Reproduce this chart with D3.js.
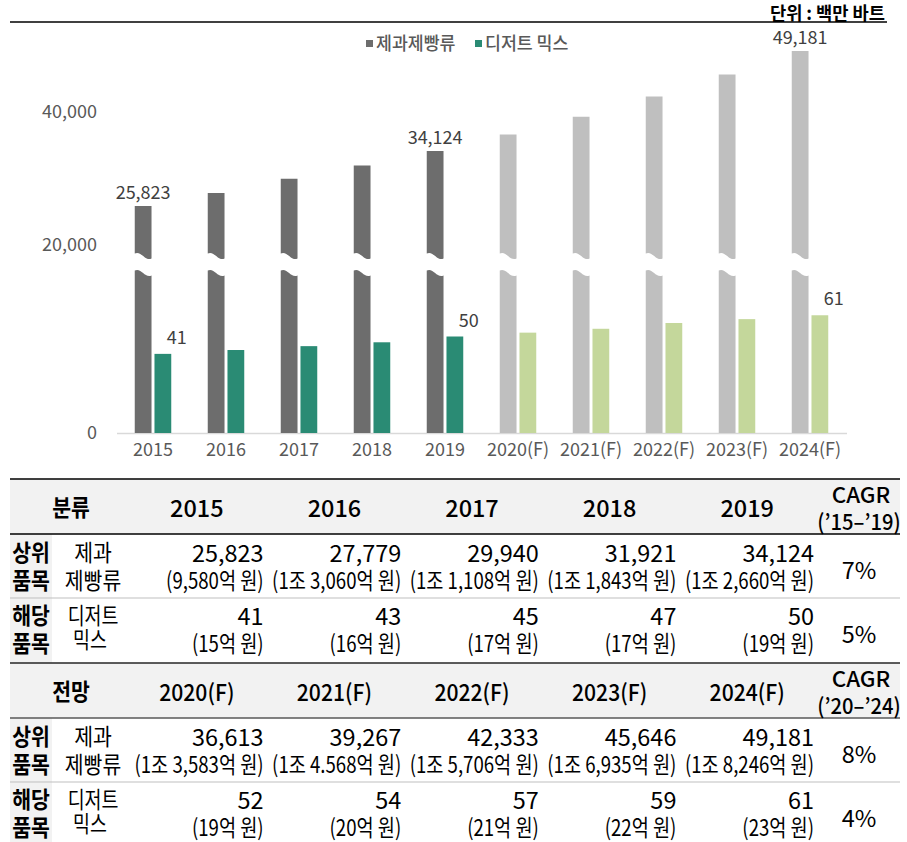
<!DOCTYPE html>
<html>
<head>
<meta charset="utf-8">
<script src="https://cdn.jsdelivr.net/npm/d3@7"></script>
<style>
    body { margin: 0; background: #fff; }
    svg { display: block; font-family: "Noto Sans CJK KR", "Noto Sans", sans-serif; }
</style>
</head>
<body>
<div id="chart"></div>
<script>
// values
const years = ["2015", "2016", "2017", "2018", "2019", "2020(F)", "2021(F)", "2022(F)", "2023(F)", "2024(F)"];
const bakery = [25823, 27779, 29940, 31921, 34124, 36613, 39267, 42333, 45646, 49181];
const dessert = [41, 43, 45, 47, 50, 52, 54, 57, 59, 61];
const bakeryWon = ["(9,580억 원)", "(1조 3,060억 원)", "(1조 1,108억 원)", "(1조 1,843억 원)", "(1조 2,660억 원)",
    "(1조 3,583억 원)", "(1조 4.568억 원)", "(1조 5,706억 원)", "(1조 6,935억 원)", "(1조 8,246억 원)"];
const dessertWon = ["(15억 원)", "(16억 원)", "(17억 원)", "(17억 원)", "(19억 원)",
    "(19억 원)", "(20억 원)", "(21억 원)", "(22억 원)", "(23억 원)"];
const sectionTitles = ["분류", "전망"];
const cagrPeriods = ["(’15–’19)", "(’20–’24)"];
const cagrBakery = ["7%", "8%"];
const cagrDessert = ["5%", "4%"];
const seriesNames = ["제과제빵류", "디저트 믹스"];
const labeledYears = ["2015", "2019", "2024(F)"];
const yTicks = [0, 20000, 40000];

const width = 907, height = 842;
const baseY = 433;
const breakLo = 16000, breakHi = 18300;   // where the bakery bars are cut
const wave = 2.5;

const colors = {
    bakery: "#6d6d6d", bakeryF: "#bfbfbf",
    dessert: "#2a8b74", dessertF: "#c4d79b"
};
const isForecast = y => y.includes("(F)");

const svg = d3.select("#chart").append("svg")
    .attr("width", width)
    .attr("height", height);

// header: unit + rule
svg.append("text")
    .attr("transform", "translate(885,20) scale(0.98,1)")
    .attr("text-anchor", "end")
    .attr("font-size", 18)
    .attr("font-weight", 700)
    .attr("fill", "#000")
    .text("단위 : 백만 바트");

svg.append("line")
    .attr("x1", 10).attr("x2", 887)
    .attr("y1", 22).attr("y2", 22)
    .attr("stroke", "#000").attr("stroke-width", 1.5);

// legend
const legend = svg.append("g").attr("font-size", 18).attr("fill", "#595959");
const legendX = [366, 475];
seriesNames.forEach((n, i) => {
    legend.append("rect")
        .attr("x", legendX[i]).attr("y", 40)
        .attr("width", 7).attr("height", 7)
        .attr("fill", i === 0 ? colors.bakery : colors.dessert);
    legend.append("text")
        .attr("transform", `translate(${legendX[i] + 10},50) scale(0.96,1)`)
        .attr("font-weight", 500)
        .text(n);
});

// scales
const x0 = d3.scaleBand()
    .domain(years)
    .range([116.5, 846.5])
    .paddingInner(0.5)
    .paddingOuter(0.25);

const x1 = d3.scaleBand()
    .domain(["bakery", "dessert"])
    .range([0, x0.bandwidth()])
    .paddingInner(0.15);

const yBak = d3.scaleLinear()
    .domain([0, breakLo, breakHi, 40000])
    .range([baseY, 273, 256, 112]);

const yDes = d3.scaleLinear()
    .domain([0, 100])
    .range([baseY, 240]);

const data = years.map((y, i) => ({ year: y, bakery: bakery[i], dessert: dessert[i] }));

// x axis
const gx = svg.append("g")
    .attr("transform", `translate(0,${baseY})`)
    .call(d3.axisBottom(x0).tickSize(0).tickPadding(10));
gx.select(".domain").attr("stroke", "#d9d9d9").attr("stroke-width", 1.5);
gx.selectAll("text")
    .attr("font-family", "'Noto Sans CJK KR', sans-serif")
    .attr("font-size", 18)
    .attr("fill", "#595959");

// y axis (labels only)
const gy = svg.append("g")
    .attr("transform", "translate(99,0)")
    .call(d3.axisLeft(yBak).tickValues(yTicks).tickSize(0).tickPadding(2).tickFormat(d3.format(",")));
gy.select(".domain").remove();
gy.selectAll("text")
    .attr("font-family", "'Noto Sans CJK KR', sans-serif")
    .attr("font-size", 18)
    .attr("fill", "#595959");

// bakery bars, drawn in two pieces with a wavy cut
function lowerPiece(d) {
    const x = x0(d.year) + x1("bakery"), w = x1.bandwidth(), yb = yBak(breakLo);
    return `M${x},${baseY}V${yb - wave}C${x + 0.4 * w},${yb - 2.2 * wave} ${x + 0.6 * w},${yb + 2.2 * wave} ${x + w},${yb + wave}V${baseY}Z`;
}
function upperPiece(d) {
    const x = x0(d.year) + x1("bakery"), w = x1.bandwidth(), yb = yBak(breakHi), yt = yBak(d.bakery);
    return `M${x},${yt}H${x + w}V${yb + wave}C${x + 0.6 * w},${yb + 2.2 * wave} ${x + 0.4 * w},${yb - 2.2 * wave} ${x},${yb - wave}Z`;
}

const gBars = svg.append("g");
gBars.selectAll(".bak-lo")
    .data(data)
    .enter()
    .append("path")
    .attr("class", "bak-lo")
    .attr("d", lowerPiece)
    .attr("fill", d => isForecast(d.year) ? colors.bakeryF : colors.bakery);

gBars.selectAll(".bak-hi")
    .data(data)
    .enter()
    .append("path")
    .attr("class", "bak-hi")
    .attr("d", upperPiece)
    .attr("fill", d => isForecast(d.year) ? colors.bakeryF : colors.bakery);

gBars.selectAll(".des")
    .data(data)
    .enter()
    .append("rect")
    .attr("class", "des")
    .attr("x", d => x0(d.year) + x1("dessert"))
    .attr("y", d => yDes(d.dessert))
    .attr("width", x1.bandwidth())
    .attr("height", d => baseY - yDes(d.dessert))
    .attr("fill", d => isForecast(d.year) ? colors.dessertF : colors.dessert);

// value labels
const labeled = data.filter(d => labeledYears.includes(d.year));
const gLabels = svg.append("g").attr("font-size", 18).attr("fill", "#404040");
gLabels.selectAll(".bak-label")
    .data(labeled)
    .enter()
    .append("text")
    .attr("x", d => x0(d.year) + x1("bakery") + x1.bandwidth() / 2)
    .attr("y", d => yBak(d.bakery) - 7)
    .attr("text-anchor", "middle")
    .text(d => d3.format(",")(d.bakery));

gLabels.selectAll(".des-label")
    .data(labeled)
    .enter()
    .append("text")
    .attr("x", d => x0(d.year) + x1("dessert") + x1.bandwidth() / 2 + 14)
    .attr("y", d => yDes(d.dessert) - 10)
    .attr("text-anchor", "middle")
    .text(d => d.dessert);

// table
const tableLeft = 10, tableRight = 900;
const colLeft = 52, colName = 128, colCagr = 816;
const xCol = d3.scaleBand().domain(d3.range(5)).range([colName, colCagr]);
const fs = 23;
const sxHangul = 0.89, sxMixed = 0.81, sxLatin = 1.02;

function txt(g, x, y, s, anchor, weight, sx, size) {
    g.append("text")
        .attr("transform", `translate(${x},${y}) scale(${sx},1)`)
        .attr("text-anchor", anchor || "middle")
        .attr("font-size", size || fs)
        .attr("font-weight", weight || 400)
        .attr("fill", "#000")
        .text(s);
}

function section(top, k) {
    const g = svg.append("g");
    const hdrH = 55, rowH = 64;
    const idx = d3.range(5).map(i => i + k * 5);

    g.append("rect").attr("x", tableLeft).attr("y", top).attr("width", tableRight - tableLeft).attr("height", hdrH).attr("fill", "#f2f2f2");
    g.append("rect").attr("x", tableLeft).attr("y", top + hdrH).attr("width", colLeft - tableLeft).attr("height", rowH * 2 + 2).attr("fill", "#f2f2f2");

    g.append("line").attr("x1", tableLeft).attr("x2", tableRight).attr("y1", top).attr("y2", top)
        .attr("stroke", k === 0 ? "#000" : "#262626").attr("stroke-width", 1.5);
    g.append("line").attr("x1", tableLeft).attr("x2", tableRight).attr("y1", top + hdrH).attr("y2", top + hdrH)
        .attr("stroke", k === 0 ? "#000" : "#595959").attr("stroke-width", 1.5);
    g.append("line").attr("x1", tableLeft).attr("x2", tableRight).attr("y1", top + hdrH + rowH).attr("y2", top + hdrH + rowH)
        .attr("stroke", "#bfbfbf").attr("stroke-width", 1);

    // header
    txt(g, 71, top + 37, sectionTitles[k], "middle", 700, sxHangul);
    idx.forEach((j, i) => txt(g, xCol(i) + xCol.bandwidth() / 2, top + 38, years[j], "middle", 500, k === 0 ? sxLatin : 0.92));
    txt(g, 861, top + 24, "CAGR", "middle", 500, sxLatin, 22);
    txt(g, 859, top + 51, cagrPeriods[k], "middle", 500, 0.92, 22);

    // bakery row
    let r = top + hdrH;
    txt(g, 31, r + 27, "상위", "middle", 700, sxHangul);
    txt(g, 31, r + 55, "품목", "middle", 700, sxHangul);
    txt(g, 93, r + 27, "제과", "middle", 400, sxHangul);
    txt(g, 93, r + 55, "제빵류", "middle", 400, sxHangul);
    idx.forEach((j, i) => {
        txt(g, xCol(i) + xCol.bandwidth() - 2, r + 28, d3.format(",")(bakery[j]), "end", 400, sxLatin);
        txt(g, xCol(i) + xCol.bandwidth() - 2, r + 55, bakeryWon[j], "end", 400, sxMixed);
    });
    txt(g, 859, r + 45, cagrBakery[k], "middle", 400, sxLatin);

    // dessert row
    r += rowH;
    txt(g, 31, r + 26, "해당", "middle", 700, sxHangul);
    txt(g, 31, r + 54, "품목", "middle", 700, sxHangul);
    txt(g, 93, r + 26, "디저트", "middle", 400, 0.8);
    txt(g, 90, r + 50, "믹스", "middle", 400, 0.8);
    idx.forEach((j, i) => {
        txt(g, xCol(i) + xCol.bandwidth() - 2, r + 27, dessert[j], "end", 400, sxLatin);
        txt(g, xCol(i) + xCol.bandwidth() - 2, r + 54, dessertWon[j], "end", 400, sxMixed);
    });
    txt(g, 859, r + 45, cagrDessert[k], "middle", 400, sxLatin);
}

section(479, 0);
section(663, 1);
</script>
</body>
</html>
